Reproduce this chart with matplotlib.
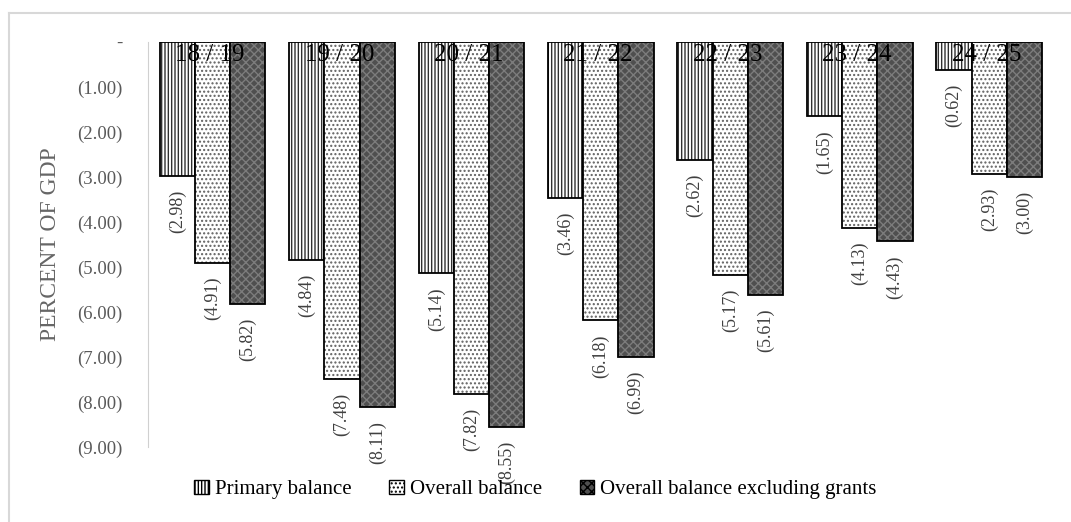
import numpy as np
import matplotlib
matplotlib.use("Agg")
import matplotlib.pyplot as plt
from matplotlib.lines import Line2D

plt.rcParams['font.family'] = ['Liberation Serif', 'DejaVu Serif']
plt.rcParams['hatch.linewidth'] = 1.0

# Data (percent of GDP, deficits shown as negative)
years = ["18 / 19", "19 / 20", "20 / 21", "21 / 22", "22 / 23", "23 / 24", "24 / 25"]
primary = [-2.98, -4.84, -5.14, -3.46, -2.62, -1.65, -0.62]
overall = [-4.91, -7.48, -7.82, -6.18, -5.17, -4.13, -2.93]
overall_ex = [-5.82, -8.11, -8.55, -6.99, -5.61, -4.43, -3.00]
series_names = ["Primary balance", "Overall balance", "Overall balance excluding grants"]
yticks = [0, -1, -2, -3, -4, -5, -6, -7, -8, -9]
ytick_labels = ["-", "(1.00)", "(2.00)", "(3.00)", "(4.00)", "(5.00)",
                "(6.00)", "(7.00)", "(8.00)", "(9.00)"]

fig = plt.figure(figsize=(10.71, 5.22), dpi=100)
ax = fig.add_axes([0.138, 0.143, 0.846, 0.777])

x = np.arange(len(years))
w = 0.272
styles = [
    dict(face="white", hatch="|||||", hcol="#303030"),
    dict(face="white", hatch="....", hcol="#606060"),
    dict(face="#4f4f4f", hatch="xxxx", hcol="#7c7c7c"),
]
handles = []
for i, (vals, st) in enumerate(zip([primary, overall, overall_ex], styles)):
    pos = x + (i - 1) * w
    ax.bar(pos, vals, w, color=st["face"], edgecolor=st["hcol"], hatch=st["hatch"], linewidth=0)
    ax.bar(pos, vals, w, fill=False, edgecolor="black", linewidth=1.3)
    for xp, v in zip(pos, vals):
        ax.annotate("(%.2f)" % abs(v), (xp, v), xytext=(0, -10), textcoords="offset points",
                    rotation=90, ha="center", va="top", fontsize=13, color="#404040")
    handles.append(plt.Rectangle((0, 0), 1, 1, facecolor=st["face"], edgecolor="black",
                                 hatch=st["hatch"], linewidth=1.0))

for xi, lab in zip(x, years):
    ax.text(xi - 0.02, -0.3, lab, ha="center", va="center", fontsize=18, color="black")

ax.set_xlim(-0.5, len(years) - 0.5)
ax.set_ylim(-9, 0)
ax.set_yticks(yticks)
ax.set_yticklabels(ytick_labels, fontsize=13.5, color="#595959")
ax.tick_params(axis="y", length=0, pad=18)
ax.set_xticks([])
for s in ["top", "right", "bottom"]:
    ax.spines[s].set_visible(False)
ax.spines["left"].set_color("#d0d0d0")
ax.set_ylabel("PERCENT OF GDP", fontsize=17, color="#666666", labelpad=12)

fig.legend(handles, series_names, loc="center", bbox_to_anchor=(0.5, 0.062), ncol=3,
           frameon=False, fontsize=15, handlelength=0.7, handleheight=0.7,
           handletextpad=0.3, columnspacing=1.8)

# light frame lines
fig.add_artist(Line2D([0.008, 1.0], [0.976, 0.976], color="#d8d8d8", lw=1.5))
fig.add_artist(Line2D([0.008, 0.008], [0.0, 0.976], color="#d8d8d8", lw=1.5))

fig.savefig("out.png", dpi=100)
